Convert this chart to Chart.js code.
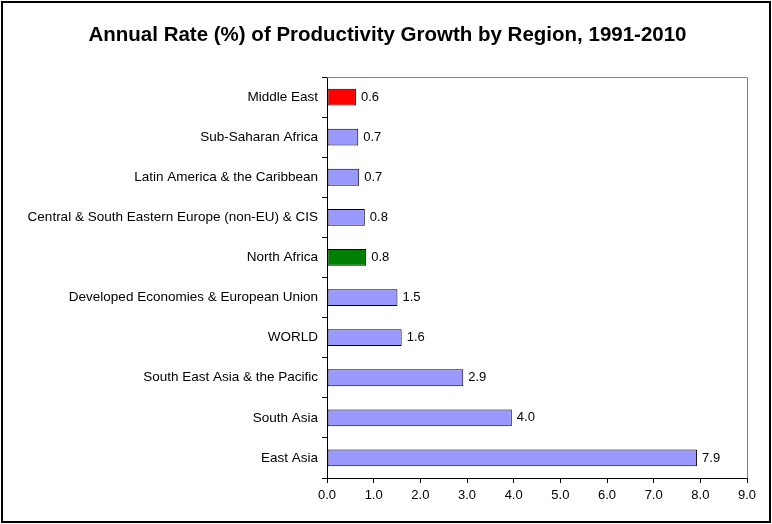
<!DOCTYPE html>
<html>
<head>
<meta charset="utf-8">
<script src="https://cdn.jsdelivr.net/npm/chart.js@4/dist/chart.umd.min.js"></script>
<style>
html,body{margin:0;padding:0;background:#fff;}
#wrap{width:772px;height:524px;position:relative;}
</style>
</head>
<body>
<div id="wrap"><canvas id="c" width="772" height="524"></canvas></div>
<script>
const categories = [
  "Middle East",
  "Sub-Saharan Africa",
  "Latin America & the Caribbean",
  "Central & South Eastern Europe (non-EU) & CIS",
  "North Africa",
  "Developed Economies & European Union",
  "WORLD",
  "South East Asia & the Pacific",
  "South Asia",
  "East Asia"
];
const growthRates = [0.62, 0.67, 0.69, 0.81, 0.84, 1.51, 1.6, 2.92, 3.96, 7.93];
const valueLabels = ["0.6", "0.7", "0.7", "0.8", "0.8", "1.5", "1.6", "2.9", "4.0", "7.9"];
const xTickLabels = ["0.0","1.0","2.0","3.0","4.0","5.0","6.0","7.0","8.0","9.0"];
const chartTitle = 'Annual Rate (%) of Productivity Growth by Region, 1991-2010';
const barColors = categories.map(c => c === "Middle East" ? "#FF0000" : (c === "North Africa" ? "#008000" : "#9999FF"));

const FONT = "'Liberation Sans', Arial, sans-serif";

const framePlugin = {
  id: 'frame',
  afterDraw(chart) {
    const ctx = chart.ctx;
    const a = chart.chartArea;
    ctx.save();
    ctx.strokeStyle = '#808080';
    ctx.lineWidth = 1;
    ctx.beginPath();
    ctx.moveTo(a.left, a.top + 0.5);
    ctx.lineTo(a.right + 0.5, a.top + 0.5);
    ctx.lineTo(a.right + 0.5, a.bottom);
    ctx.stroke();
    ctx.strokeStyle = '#000';
    ctx.lineWidth = 2;
    ctx.strokeRect(2, 2, 768, 520);
    // title
    ctx.fillStyle = '#000';
    ctx.font = 'bold 20.5px ' + FONT;
    ctx.textAlign = 'center';
    ctx.textBaseline = 'middle';
    ctx.fillText(chartTitle, 387.5, 35.5);
    // value labels
    const meta = chart.getDatasetMeta(0);
    ctx.font = '13px ' + FONT;
    ctx.textAlign = 'left';
    meta.data.forEach((bar, i) => {
      ctx.fillText(valueLabels[i], bar.x + 5, bar.y);
    });
    ctx.restore();
  }
};

new Chart(document.getElementById('c'), {
  type: 'bar',
  data: {
    labels: categories,
    datasets: [{
      data: growthRates,
      backgroundColor: barColors,
      borderColor: '#000',
      borderWidth: 1,
      borderSkipped: false,
      barPercentage: 0.42,
      categoryPercentage: 1.0
    }]
  },
  options: {
    indexAxis: 'y',
    responsive: false,
    animation: false,
    devicePixelRatio: 1,
    layout: { padding: { left: 0, right: 25, top: 77, bottom: 0 } },
    plugins: {
      legend: { display: false },
      tooltip: { enabled: false },
      title: { display: false }
    },
    scales: {
      x: {
        min: 0, max: 9,
        ticks: {
          stepSize: 1,
          color: '#000',
          font: { family: FONT, size: 13 },
          padding: 5,
          callback: (v, i) => xTickLabels[i]
        },
        grid: { drawOnChartArea: false, drawTicks: true, tickLength: 5, color: '#000' },
        border: { display: true, color: '#000', width: 1 },
        afterFit(scale) { scale.height = 46; }
      },
      y: {
        ticks: {
          color: '#000',
          font: { family: FONT, size: 13.5 },
          padding: 4,
          autoSkip: false
        },
        grid: { drawOnChartArea: false, drawTicks: true, tickLength: 5, color: '#000', offset: true },
        border: { display: true, color: '#000', width: 1 },
        afterFit(scale) { scale.width = 327; }
      }
    }
  },
  plugins: [framePlugin]
});
</script>
</body>
</html>
